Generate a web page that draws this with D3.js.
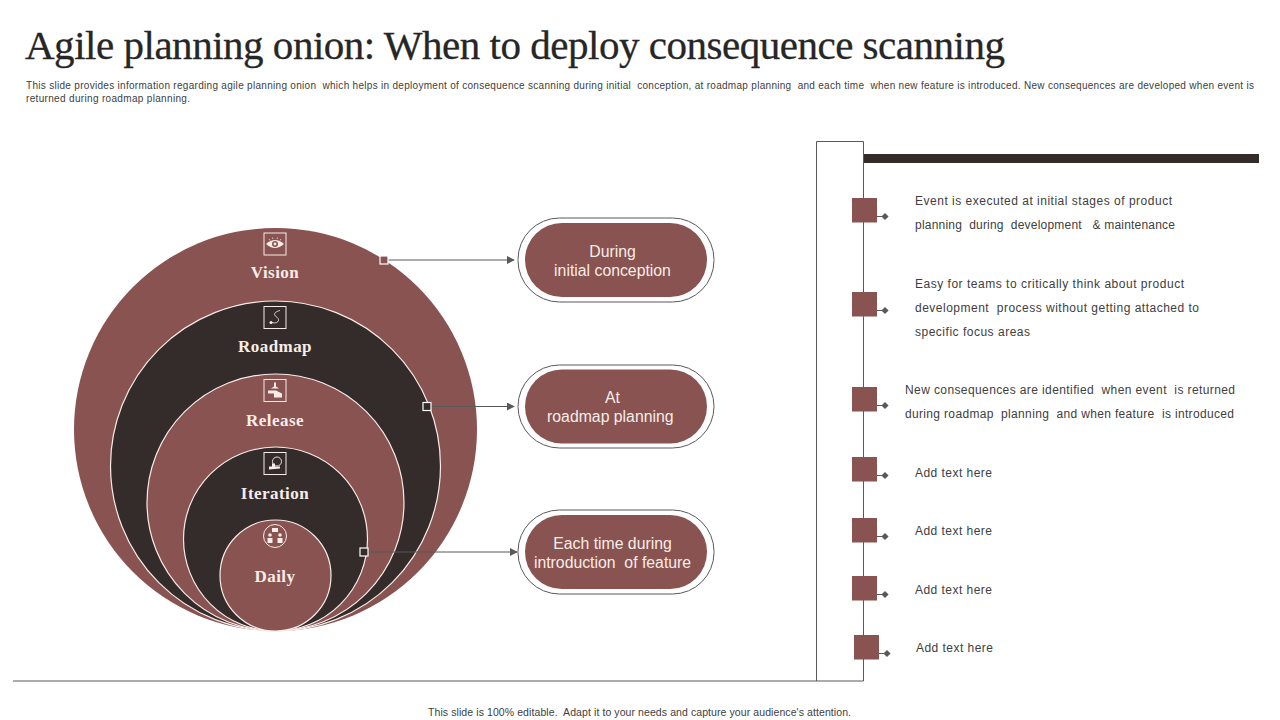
<!DOCTYPE html>
<html>
<head>
<meta charset="utf-8">
<script src="https://cdn.jsdelivr.net/npm/d3@7"></script>
<style>
  html, body { margin: 0; background: #fff; }
  svg { display: block; }
  text { white-space: pre; }
</style>
</head>
<body>
<svg id="chart" width="1280" height="720"></svg>
<script>
const titleText = "Agile planning onion: When to deploy consequence scanning";
const descLines = [
  "This slide provides information regarding agile planning onion  which helps in deployment of consequence scanning during initial  conception, at roadmap planning  and each time  when new feature is introduced. New consequences are developed when event is",
  "returned during roadmap planning."
];
const footerText = "This slide is 100% editable.  Adapt it to your needs and capture your audience's attention.";

// outer ring first
const layers = ["Vision", "Roadmap", "Release", "Iteration", "Daily"];
const layerRank = [5, 4, 3, 2, 1];
const pillLabels = [
  ["During", "initial conception"],
  ["At", "roadmap planning "],
  ["Each time during", "introduction  of feature"]
];
const stepTexts = [
  ["Event is executed at initial stages of product", "planning  during  development   & maintenance"],
  ["Easy for teams to critically think about product", "development  process without getting attached to", "specific focus areas"],
  ["New consequences are identified  when event  is returned", "during roadmap  planning  and when feature  is introduced"],
  ["Add text here"],
  ["Add text here"],
  ["Add text here"],
  ["Add text here"]
];

const brown = "#885350", dark = "#332c2b", grey = "#595959", ink = "#404040", pale = "#f8ece8";
const svg = d3.select("#chart");

const defs = svg.append("defs");
defs.append("marker").attr("id", "arrow")
  .attr("viewBox", "0 0 10 10").attr("refX", 9).attr("refY", 5)
  .attr("markerWidth", 8).attr("markerHeight", 8).attr("markerUnits", "userSpaceOnUse")
  .attr("orient", "auto")
  .append("path").attr("d", "M0,0L10,5L0,10Z").attr("fill", grey);

// header
svg.append("text").attr("x", 25).attr("y", 59)
  .attr("font-family", "Liberation Serif").attr("font-size", 41).attr("fill", "#262626")
  .attr("stroke", "#262626").attr("stroke-width", 0.3)
  .attr("textLength", 980).attr("lengthAdjust", "spacing")
  .text(titleText);

svg.append("g").selectAll("text").data(descLines).join("text")
  .attr("x", 26).attr("y", (d, i) => 89 + i * 13)
  .attr("font-family", "Liberation Sans").attr("font-size", 10).attr("fill", ink)
  .attr("textLength", (d, i) => i === 0 ? 1228 : 164).attr("lengthAdjust", "spacing")
  .text(d => d);

svg.append("text").attr("x", 428).attr("y", 716)
  .attr("font-family", "Liberation Sans").attr("font-size", 10.5).attr("fill", ink)
  .attr("textLength", 423).attr("lengthAdjust", "spacing")
  .text(footerText);

// onion: all rings sit on the same bottom point
const cx = 275.5, bottomY = 631;
const r = d3.scaleLinear().domain([1, 5]).range([55.5, 201.5]);

const onion = svg.append("g");
onion.selectAll("circle").data(layers).join("circle")
  .attr("cx", cx)
  .attr("cy", (d, i) => bottomY - r(layerRank[i]))
  .attr("r", (d, i) => r(layerRank[i]))
  .attr("fill", (d, i) => i % 2 === 0 ? brown : dark)
  .attr("stroke", (d, i) => i === 0 ? "none" : pale)
  .attr("stroke-width", 1.2);

onion.selectAll("text").data(layers).join("text")
  .attr("x", cx - 0.5)
  .attr("y", (d, i) => [278, 352, 426, 499, 582][i])
  .attr("text-anchor", "middle")
  .attr("font-family", "Liberation Serif").attr("font-weight", "bold").attr("font-size", 17)
  .attr("letter-spacing", 0.45)
  .attr("fill", pale)
  .text(d => d);

// small icons above every label
const iconY = [244, 317.5, 390.5, 463.5, 536];
const icons = onion.selectAll("g.icon").data(layers).join("g")
  .attr("class", "icon")
  .attr("transform", (d, i) => `translate(${cx - 0.5},${iconY[i]})`);

icons.each(function (d, i) {
  const g = d3.select(this);
  if (i < 4) {
    g.append("rect").attr("x", -11).attr("y", -11).attr("width", 22).attr("height", 22)
      .attr("fill", "none").attr("stroke", pale).attr("stroke-width", 1);
  } else {
    g.append("circle").attr("r", 11.5).attr("fill", "none").attr("stroke", pale).attr("stroke-width", 1);
  }
  if (i === 0) {
    g.append("path").attr("d", "M-9,0Q0,-8 9,0Q0,8 -9,0Z").attr("fill", pale);
    g.append("path").attr("d", "M-6,-5L-5,-3.5M-2.5,-6.5L-2,-5M2.5,-6.5L2,-5M6,-5L5,-3.5")
      .attr("stroke", pale).attr("stroke-width", 0.7);
    g.append("circle").attr("r", 3).attr("fill", brown);
    g.append("circle").attr("r", 1.4).attr("fill", pale);
  } else if (i === 1) {
    g.append("path").attr("d", "M-3,5C3,7 6,2 1,-1C-2,-3 0,-6 5,-7")
      .attr("fill", "none").attr("stroke", pale).attr("stroke-width", 0.8);
    g.append("circle").attr("cx", -4).attr("cy", 5).attr("r", 1.5).attr("fill", pale);
  } else if (i === 2) {
    g.append("path").attr("d", "M-1,-8L1,-8L1,-4L4,-2L-4,-2L-1,-4Z").attr("fill", pale);
    g.append("path").attr("d", "M-7,0L1,0L7,3L7,7L-1,7L-1,3L-7,3Z").attr("fill", pale);
  } else if (i === 3) {
    g.append("circle").attr("cx", 2).attr("cy", -2).attr("r", 4.5)
      .attr("fill", "none").attr("stroke", pale).attr("stroke-width", 0.9);
    g.append("path").attr("d", "M-6,6L-6,3L-3,3L-3,0L0,0L0,3L5,3L5,5Z").attr("fill", pale);
  } else {
    g.append("rect").attr("x", -3).attr("y", -8).attr("width", 6).attr("height", 4).attr("fill", pale);
    [-5, 5].forEach(dx => {
      g.append("circle").attr("cx", dx).attr("cy", -1).attr("r", 1.8).attr("fill", pale);
      g.append("path").attr("d", `M${dx - 2.5},7L${dx - 2.5},2L${dx + 2.5},2L${dx + 2.5},7Z`).attr("fill", pale);
    });
  }
});

// pills with leader lines
const pillY = [260, 406.5, 552];
const pillH = [84, 83, 84];
const leaderX = [384, 427, 364];
const arrowEnd = [514, 514, 517];

const pills = svg.append("g").selectAll("g").data(pillLabels).join("g")
  .attr("transform", (d, i) => `translate(616,${pillY[i]})`);

pills.append("rect").attr("x", -98).attr("y", (d, i) => -pillH[i] / 2)
  .attr("width", 196).attr("height", (d, i) => pillH[i])
  .attr("rx", 41.5).attr("fill", "#fff").attr("stroke", grey).attr("stroke-width", 1);
pills.append("rect").attr("x", -91).attr("y", -37)
  .attr("width", 182).attr("height", 74).attr("rx", 37).attr("fill", brown);
pills.selectAll("text").data(d => d).join("text")
  .attr("x", -3.5).attr("y", (d, i) => -3.5 + i * 19)
  .attr("text-anchor", "middle")
  .attr("font-family", "Liberation Sans").attr("font-size", 15.8).attr("fill", pale)
  .text(d => d);

const leaders = svg.append("g").selectAll("g").data(pillLabels).join("g");
leaders.append("line")
  .attr("x1", (d, i) => leaderX[i]).attr("x2", (d, i) => arrowEnd[i])
  .attr("y1", (d, i) => pillY[i]).attr("y2", (d, i) => pillY[i])
  .attr("stroke", grey).attr("stroke-width", 1).attr("marker-end", "url(#arrow)");
leaders.append("rect")
  .attr("x", (d, i) => leaderX[i] - 4).attr("y", (d, i) => pillY[i] - 4)
  .attr("width", 8).attr("height", 8)
  .attr("fill", (d, i) => i === 0 ? brown : dark)
  .attr("stroke", "#fff").attr("stroke-width", 1.2);

// right side frame
svg.append("path").attr("d", "M13,681H863.5V141.5H816.5V681")
  .attr("fill", "none").attr("stroke", grey).attr("stroke-width", 1);
svg.append("rect").attr("x", 864).attr("y", 154).attr("width", 395).attr("height", 9).attr("fill", dark);

const stepTop = [198, 292, 387, 457, 518, 576, 635];
const stepX = [852, 852, 852, 852, 852, 852, 854];
const textX = [915, 915, 905, 915, 915, 915, 916];
const firstLine = [204.5, 287.5, 393.5, 476.5, 534.5, 593.5, 651.5];
const lineWidths = [[257, 260], [269, 284, 115], [330, 329], [77], [77], [77], [77]];

const steps = svg.append("g").selectAll("g").data(stepTexts).join("g");
steps.append("rect")
  .attr("x", (d, i) => stepX[i]).attr("y", (d, i) => stepTop[i])
  .attr("width", 25).attr("height", 24.5).attr("fill", brown);
steps.append("line")
  .attr("x1", (d, i) => stepX[i] + 25).attr("x2", (d, i) => stepX[i] + 33)
  .attr("y1", (d, i) => stepTop[i] + 18.5).attr("y2", (d, i) => stepTop[i] + 18.5)
  .attr("stroke", grey).attr("stroke-width", 1);
steps.append("path")
  .attr("d", d3.symbol(d3.symbolSquare, 26))
  .attr("transform", (d, i) => `translate(${stepX[i] + 33},${stepTop[i] + 18.5}) rotate(45)`)
  .attr("fill", grey);
steps.each(function (lines, k) {
  d3.select(this).selectAll("text").data(lines).join("text")
    .attr("x", textX[k]).attr("y", (d, i) => firstLine[k] + i * 24)
    .attr("font-family", "Liberation Sans").attr("font-size", 12).attr("fill", ink)
    .attr("textLength", (d, i) => lineWidths[k][i]).attr("lengthAdjust", "spacing")
    .text(d => d);
});
</script>
</body>
</html>
